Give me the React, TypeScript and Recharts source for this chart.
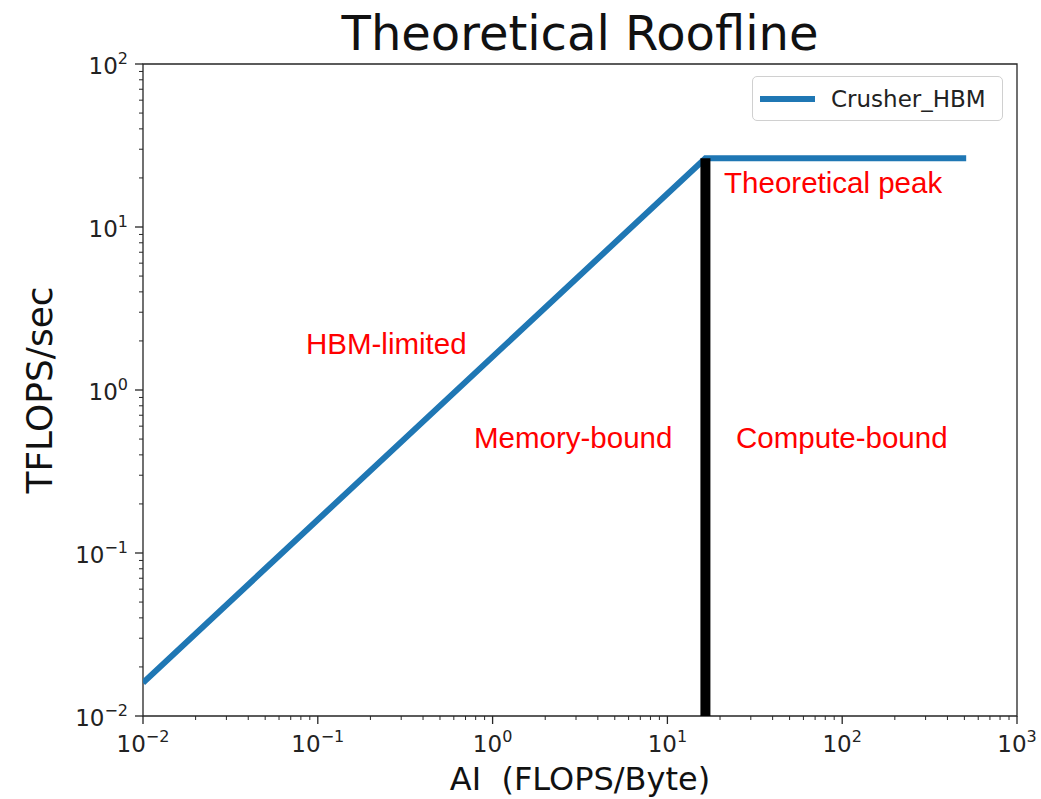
import { ComposedChart, Line, Scatter, XAxis, YAxis, ReferenceArea } from 'recharts'

// roofline: HBM bandwidth slope up to the ridge, then flat at theoretical peak
const roofAI = [0.01, 16.5, 512]
const roofPerf = [0.016, 26.4, 26.4]

// vertical ridge marker
const ridgeAI = [16.5, 16.5]
const ridgePerf = [0.01, 26.4]

const noteText = ['HBM-limited', 'Memory-bound', 'Compute-bound', 'Theoretical peak']
const noteAI = [0.0856, 0.783, 24.7, 21.1]
const notePerf = [1.67, 0.438, 0.438, 16.2]

const xMajor = [0.01, 0.1, 1, 10, 100, 1000]
const xExp = ['\u22122', '\u22121', '0', '1', '2', '3']
const yMajor = [0.01, 0.1, 1, 10, 100]
const yExp = ['\u22122', '\u22121', '0', '1', '2']
const minorMult = [2, 3, 4, 5, 6, 7, 8, 9]

const withMinors = (majors: number[]) =>
  majors.flatMap((m, i) => (i < majors.length - 1 ? [m, ...minorMult.map(k => m * k)] : [m]))

const xTicks = withMinors(xMajor)
const yTicks = withMinors(yMajor)

const roofData = roofAI.map((ai, i) => ({ ai, perf: roofPerf[i] }))
const ridgeData = ridgeAI.map((ai, i) => ({ ai, perf: ridgePerf[i] }))
const noteData = noteText.map((text, i) => ({ ai: noteAI[i], perf: notePerf[i], text }))

const FONT = '"DejaVu Sans", sans-serif'
const AXIS = '#262626'
const BLUE = '#1f77b4'

const majorIndex = (list: number[], v: number) => list.findIndex(m => Math.abs(m - v) / m < 1e-6)

function XTick(props: any) {
  const { x, y, payload } = props
  const i = majorIndex(xMajor, payload.value)
  if (i < 0) return <line x1={x} x2={x} y1={y} y2={y + 4} stroke={AXIS} strokeWidth={1} />
  return (
    <g>
      <line x1={x} x2={x} y1={y} y2={y + 8} stroke={AXIS} strokeWidth={1.3} />
      <text x={x} y={y + 36} textAnchor="middle" fontFamily={FONT} fontSize={23} fill="#222">
        10<tspan dy={-10} fontSize={16}>{xExp[i]}</tspan>
      </text>
    </g>
  )
}

function YTick(props: any) {
  const { x, y, payload } = props
  const i = majorIndex(yMajor, payload.value)
  if (i < 0) return <line x1={x - 4} x2={x} y1={y} y2={y} stroke={AXIS} strokeWidth={1} />
  return (
    <g>
      <line x1={x - 8} x2={x} y1={y} y2={y} stroke={AXIS} strokeWidth={1.3} />
      <text x={x - 15} y={y + 10} textAnchor="end" fontFamily={FONT} fontSize={23} fill="#222">
        10<tspan dy={-10} fontSize={16}>{yExp[i]}</tspan>
      </text>
    </g>
  )
}

function NoteShape(props: any) {
  const { cx, cy, payload } = props
  return (
    <text x={cx} y={cy} fill="#ff0000" fontFamily='"Liberation Sans", Arial, sans-serif' fontSize={29.5}>
      {payload.text}
    </text>
  )
}

function LegendBox() {
  return (
    <div
      style={{
        position: 'absolute',
        left: 752,
        top: 76,
        width: 251,
        height: 45,
        border: '1px solid #d0d0d0',
        borderRadius: 5,
        background: 'rgba(255,255,255,0.8)',
        display: 'flex',
        alignItems: 'center',
        boxSizing: 'border-box',
      }}
    >
      <svg width={72} height={20} style={{ marginLeft: 6 }}>
        <line x1={1} x2={56} y1={10} y2={10} stroke={BLUE} strokeWidth={6} />
      </svg>
      <span style={{ fontFamily: FONT, fontSize: 23, color: '#222' }}>Crusher_HBM</span>
    </div>
  )
}

export default function App() {
  return (
    <div style={{ position: 'absolute', left: 0, top: 0, width: 1041, height: 799, background: '#fff' }}>
      <div
        style={{
          position: 'absolute',
          left: 143,
          width: 874,
          top: 3,
          textAlign: 'center',
          fontFamily: FONT,
          fontSize: 48,
          color: '#111',
          lineHeight: '60px',
        }}
      >
        Theoretical Roofline
      </div>
      <ComposedChart width={1041} height={799} margin={{ top: 64, right: 24, bottom: 23, left: 63 }}>
        <XAxis
          dataKey="ai"
          type="number"
          scale="log"
          domain={[0.01, 1000]}
          allowDataOverflow
          ticks={xTicks}
          interval={0}
          tickSize={0}
          tickMargin={0}
          tickLine={false}
          axisLine={false}
          height={60}
          tick={(p: any) => <XTick {...p} />}
          label={{
            content: (p: any) => (
              <text
                x={p.viewBox.x + p.viewBox.width / 2}
                y={p.viewBox.y + 74}
                textAnchor="middle"
                fontFamily={FONT}
                fontSize={32}
                fill="#111"
              >
                AI{'\u00a0\u00a0'}(FLOPS/Byte)
              </text>
            ),
          }}
        />
        <YAxis
          dataKey="perf"
          type="number"
          scale="log"
          domain={[0.01, 100]}
          allowDataOverflow
          ticks={yTicks}
          interval={0}
          tickSize={0}
          tickMargin={0}
          tickLine={false}
          axisLine={false}
          width={80}
          tick={(p: any) => <YTick {...p} />}
          label={{
            content: (p: any) => {
              const cx = 39
              const cy = p.viewBox.y + p.viewBox.height / 2
              return (
                <text
                  x={cx}
                  y={cy}
                  transform={`rotate(-90 ${cx} ${cy})`}
                  textAnchor="middle"
                  dominantBaseline="central"
                  fontFamily={FONT}
                  fontSize={36}
                  fill="#111"
                >
                  TFLOPS/sec
                </text>
              )
            },
          }}
        />
        <ReferenceArea
          x1={0.01}
          x2={1000}
          y1={0.01}
          y2={100}
          fill="none"
          fillOpacity={0}
          stroke={AXIS}
          strokeWidth={1.3}
          ifOverflow="visible"
        />
        <Line
          data={roofData}
          dataKey="perf"
          name="Crusher_HBM"
          stroke={BLUE}
          strokeWidth={6}
          dot={false}
          activeDot={false}
          isAnimationActive={false}
        />
        <Line
          data={ridgeData}
          dataKey="perf"
          name="ridge"
          stroke="#000"
          strokeWidth={10}
          dot={false}
          activeDot={false}
          isAnimationActive={false}
        />
        <Scatter
          data={noteData}
          dataKey="perf"
          name="notes"
          shape={(p: any) => <NoteShape {...p} />}
          isAnimationActive={false}
        />
      </ComposedChart>
      <LegendBox />
    </div>
  )
}
